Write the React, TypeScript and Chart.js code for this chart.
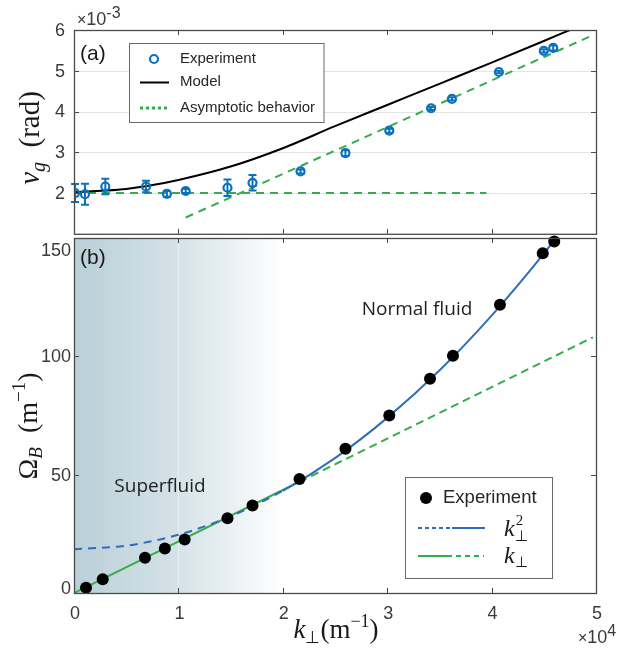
import React, { useEffect, useRef } from 'react';
import { Chart, registerables } from 'chart.js';
Chart.register(...registerables);

// ---------- Panel (a): group velocity (k in 1e4 m^-1, v_g in 1e-3 rad) ----------
const kA = [0.01, 0.105, 0.30, 0.69, 0.89, 1.07, 1.47, 1.71, 2.17, 2.60, 3.02, 3.42, 3.62, 4.07, 4.50, 4.59];
const vgExp = [2.00, 1.97, 2.16, 2.16, 1.98, 2.05, 2.13, 2.25, 2.53, 2.98, 3.53, 4.08, 4.31, 4.97, 5.49, 5.56];
const vgErr = [0.22, 0.26, 0.19, 0.14, 0.07, 0.05, 0.20, 0.19, 0.05, 0.07, 0.05, 0.04, 0.04, 0.03, 0.04, 0.06];
const modelK = [0, 0.3, 0.5, 0.7, 1.0, 1.5, 2.0, 2.5, 3.0, 3.5, 4.0, 4.5, 4.75];
const modelV = [2.02, 2.06, 2.10, 2.17, 2.32, 2.65, 3.10, 3.64, 4.16, 4.68, 5.20, 5.73, 6.0];
const asymFlatK = [0, 3.95];
const asymFlatV = [2.0, 2.0];
const asymSlopeK = [1.07, 4.94];
const asymSlopeV = [1.40, 5.84];

// ---------- Panel (b): Omega_B (m^-1) ----------
const kB = [0.115, 0.275, 0.68, 0.87, 1.06, 1.47, 1.71, 2.16, 2.60, 3.02, 3.41, 3.63, 4.08, 4.49, 4.60];
const omegaExp = [2.2, 5.8, 14.9, 18.8, 22.6, 31.6, 37.0, 48.2, 61.0, 75.0, 90.5, 100.2, 121.8, 143.6, 148.5];
const k2K = [0, 0.5, 1.0, 1.5, 2.0, 2.5, 3.0, 3.5, 4.0, 4.5, 4.65];
const k2Omega = [18.5, 20.0, 24.6, 32.4, 43.2, 57.0, 74.0, 94.0, 117.2, 143.4, 152.0];
const k1K = [0, 2.16, 4.97];
const k1Omega = [0, 47.0, 108.0];
const superfluidEnd = 2.0;
const k2SolidFrom = 2.0;
const k1DashedFrom = 2.16;

// ---------- Ticks ----------
const xTicks = [0, 1, 2, 3, 4, 5];
const yATicks = [2, 3, 4, 5, 6];
const yBTicks = [0, 50, 100, 150];

const SANS = '"Liberation Sans", Arial, Helvetica, sans-serif';
const SERIF = '"Liberation Serif", "Times New Roman", serif';
const NOTE = '"Open Sans", sans-serif';
const TXT = '#3a3a3a';
const AXIS = '#4a4a4a';
const BLUE = '#0a72bd';
const CURVE_BLUE = '#2f6dbb';
const GREEN = '#35ad4a';

type Part = { t: string; font: string; dy?: number };

function drawRich(ctx: CanvasRenderingContext2D, parts: Part[], x: number, y: number, center: boolean, rotate: boolean) {
  ctx.save();
  ctx.translate(x, y);
  if (rotate) ctx.rotate(-Math.PI / 2);
  ctx.textAlign = 'left';
  ctx.textBaseline = 'alphabetic';
  let w = 0;
  for (const p of parts) { ctx.font = p.font; w += ctx.measureText(p.t).width; }
  let cx = center ? -w / 2 : 0;
  for (const p of parts) {
    ctx.font = p.font;
    ctx.fillText(p.t, cx, p.dy || 0);
    cx += ctx.measureText(p.t).width;
  }
  ctx.restore();
}

function drawFrame(chart: any, xt: number[], yt: number[], len: number) {
  const { ctx, chartArea: a, scales } = chart;
  const x = scales.x, y = scales.y;
  ctx.save();
  ctx.strokeStyle = AXIS;
  ctx.lineWidth = 1;
  ctx.beginPath();
  for (const t of xt) {
    const px = Math.round(x.getPixelForValue(t)) + 0.5;
    if (px <= a.left + 2 || px >= a.right - 2) continue;
    ctx.moveTo(px, a.top); ctx.lineTo(px, a.top + len);
    ctx.moveTo(px, a.bottom); ctx.lineTo(px, a.bottom - len);
  }
  for (const t of yt) {
    const py = Math.round(y.getPixelForValue(t)) + 0.5;
    if (py <= a.top + 2 || py >= a.bottom - 2) continue;
    ctx.moveTo(a.left, py); ctx.lineTo(a.left + len, py);
    ctx.moveTo(a.right, py); ctx.lineTo(a.right - len, py);
  }
  ctx.stroke();
  ctx.lineWidth = 1.3;
  ctx.strokeRect(a.left + 0.5, a.top + 0.5, a.right - a.left, a.bottom - a.top);
  ctx.restore();
}

const pts = (xs: number[], ys: number[]) => xs.map((v, i) => ({ x: v, y: ys[i] }));

const baseOptions = (padding: any, yMin: number, yMax: number): any => ({
  responsive: false,
  animation: false,
  devicePixelRatio: 1,
  events: [],
  layout: { padding },
  scales: {
    x: { type: 'linear', display: false, min: 0, max: 5 },
    y: { type: 'linear', display: false, min: yMin, max: yMax },
  },
  plugins: { legend: { display: false }, tooltip: { enabled: false } },
});

const panelAPlugin = {
  id: 'panelA',
  beforeDatasetsDraw(chart: any) {
    const { ctx, chartArea: a, scales } = chart;
    ctx.save();
    ctx.strokeStyle = '#e4e4e4';
    ctx.lineWidth = 1;
    ctx.beginPath();
    for (const t of yATicks) {
      const py = Math.round(scales.y.getPixelForValue(t)) + 0.5;
      if (py <= a.top + 2) continue;
      ctx.moveTo(a.left, py); ctx.lineTo(a.right, py);
    }
    ctx.stroke();
    ctx.restore();
  },
  beforeDatasetDraw(chart: any, args: any) {
    if (args.index !== 0) return;
    const { ctx, scales } = chart;
    ctx.save();
    ctx.strokeStyle = BLUE;
    ctx.lineWidth = 2;
    ctx.beginPath();
    kA.forEach((k, i) => {
      const px = scales.x.getPixelForValue(k);
      const y1 = scales.y.getPixelForValue(vgExp[i] - vgErr[i]);
      const y2 = scales.y.getPixelForValue(vgExp[i] + vgErr[i]);
      ctx.moveTo(px, y1); ctx.lineTo(px, y2);
      ctx.moveTo(px - 4, y1); ctx.lineTo(px + 4, y1);
      ctx.moveTo(px - 4, y2); ctx.lineTo(px + 4, y2);
    });
    ctx.stroke();
    ctx.restore();
  },
  afterDraw(chart: any) {
    const { ctx, scales } = chart;
    drawFrame(chart, xTicks, yATicks, 5);
    ctx.save();
    ctx.fillStyle = TXT;
    ctx.font = `18px ${SANS}`;
    ctx.textAlign = 'right';
    ctx.textBaseline = 'middle';
    for (const t of yATicks) ctx.fillText(String(t), 65, scales.y.getPixelForValue(t) + 1);
    // exponent
    drawRich(ctx, [
      { t: '×', font: `16px ${SANS}` },
      { t: '10', font: `18px ${SANS}` },
      { t: '-3', font: `16px ${SANS}`, dy: -7 },
    ], 77, 25, false, false);
    // panel label
    ctx.fillStyle = '#1a1a1a';
    ctx.font = `21px ${SANS}`;
    ctx.textAlign = 'left';
    ctx.textBaseline = 'middle';
    ctx.fillText('(a)', 80, 54);
    // y title
    ctx.fillStyle = '#1a1a1a';
    drawRich(ctx, [
      { t: 'v', font: `italic 29px ${SERIF}` },
      { t: 'g', font: `italic 20px ${SERIF}`, dy: 6 },
      { t: '  (rad)', font: `29px ${SERIF}` },
    ], 39, 138, true, true);
    // legend
    ctx.fillStyle = '#fff';
    ctx.fillRect(129.5, 43.5, 194.5, 79);
    ctx.strokeStyle = '#6a6a6a';
    ctx.lineWidth = 1;
    ctx.strokeRect(129.5, 43.5, 194.5, 79);
    ctx.strokeStyle = BLUE;
    ctx.lineWidth = 2.2;
    ctx.beginPath(); ctx.arc(154, 59, 4, 0, Math.PI * 2); ctx.stroke();
    ctx.lineWidth = 2;
    ctx.strokeStyle = '#000';
    ctx.beginPath(); ctx.moveTo(140, 82.5); ctx.lineTo(169, 82.5); ctx.stroke();
    ctx.strokeStyle = GREEN;
    ctx.lineWidth = 3;
    ctx.setLineDash([3, 3]);
    ctx.beginPath(); ctx.moveTo(140, 108); ctx.lineTo(170, 108); ctx.stroke();
    ctx.setLineDash([]);
    ctx.fillStyle = '#262626';
    ctx.font = `15px ${SANS}`;
    ctx.textAlign = 'left';
    ctx.textBaseline = 'middle';
    ctx.fillText('Experiment', 180, 59);
    ctx.fillText('Model', 180, 82);
    ctx.fillText('Asymptotic behavior', 180, 108);
    ctx.restore();
  },
};

const panelBPlugin = {
  id: 'panelB',
  beforeDatasetsDraw(chart: any) {
    const { ctx, chartArea: a, scales } = chart;
    const x0 = a.left;
    const x1 = scales.x.getPixelForValue(superfluidEnd);
    ctx.save();
    const g = ctx.createLinearGradient(x0, 0, x1, 0);
    g.addColorStop(0, 'rgb(186,207,216)');
    g.addColorStop(0.45, 'rgb(210,224,230)');
    g.addColorStop(0.8, 'rgb(238,243,245)');
    g.addColorStop(1, 'rgb(255,255,255)');
    ctx.fillStyle = g;
    ctx.fillRect(x0, a.top, x1 - x0, a.bottom - a.top);
    ctx.strokeStyle = 'rgba(255,255,255,0.45)';
    ctx.lineWidth = 1;
    ctx.beginPath();
    for (const t of xTicks) {
      const px = Math.round(scales.x.getPixelForValue(t)) + 0.5;
      if (px <= a.left + 2 || px >= a.right - 2) continue;
      ctx.moveTo(px, a.top); ctx.lineTo(px, a.bottom);
    }
    ctx.stroke();
    ctx.restore();
  },
  afterDraw(chart: any) {
    const { ctx, scales } = chart;
    drawFrame(chart, xTicks, yBTicks, 5);
    ctx.save();
    ctx.fillStyle = TXT;
    ctx.font = `18px ${SANS}`;
    ctx.textAlign = 'right';
    ctx.textBaseline = 'middle';
    for (const t of yBTicks) {
      const shift = t === 0 ? -4 : t === 150 ? 13 : 1;
      ctx.fillText(String(t), 71, scales.y.getPixelForValue(t) + shift);
    }
    ctx.textAlign = 'center';
    for (const t of xTicks) ctx.fillText(String(t), scales.x.getPixelForValue(t) + 1, 382);
    drawRich(ctx, [
      { t: '×', font: `16px ${SANS}` },
      { t: '10', font: `18px ${SANS}` },
      { t: '4', font: `16px ${SANS}`, dy: -7 },
    ], 578, 411, false, false);
    ctx.fillStyle = '#1a1a1a';
    ctx.font = `21px ${SANS}`;
    ctx.textAlign = 'left';
    ctx.textBaseline = 'middle';
    ctx.fillText('(b)', 80, 26);
    // annotations
    ctx.fillStyle = '#1e1e1e';
    ctx.font = `19px ${NOTE}`;
    ctx.textAlign = 'center';
    ctx.fillText('Normal fluid', 417, 78);
    ctx.fillText('Superfluid', 160, 255);
    // axis titles
    ctx.fillStyle = '#1a1a1a';
    drawRich(ctx, [
      { t: 'k', font: `italic 27px ${SERIF}` },
      { t: '⊥', font: `17px ${SERIF}`, dy: 5 },
      { t: '(m', font: `27px ${SERIF}` },
      { t: '−1', font: `18px ${SERIF}`, dy: -11 },
      { t: ')', font: `27px ${SERIF}` },
    ], 336, 406, true, false);
    drawRich(ctx, [
      { t: 'Ω', font: `28px ${SERIF}` },
      { t: 'B', font: `italic 19px ${SERIF}`, dy: 5 },
      { t: '  (m', font: `28px ${SERIF}` },
      { t: '−1', font: `19px ${SERIF}`, dy: -12 },
      { t: ')', font: `28px ${SERIF}` },
    ], 37, 194, true, true);
    // legend
    ctx.fillStyle = '#fff';
    ctx.fillRect(405.5, 245.5, 147, 101);
    ctx.strokeStyle = '#6a6a6a';
    ctx.lineWidth = 1;
    ctx.strokeRect(405.5, 245.5, 147, 101);
    ctx.fillStyle = '#000';
    ctx.beginPath(); ctx.arc(426, 266, 6, 0, Math.PI * 2); ctx.fill();
    ctx.fillStyle = '#262626';
    ctx.font = `18.5px ${SANS}`;
    ctx.textAlign = 'left';
    ctx.textBaseline = 'middle';
    ctx.fillText('Experiment', 443, 266);
    ctx.lineWidth = 2;
    ctx.strokeStyle = CURVE_BLUE;
    ctx.setLineDash([4, 3]);
    ctx.beginPath(); ctx.moveTo(418, 296); ctx.lineTo(452, 296); ctx.stroke();
    ctx.setLineDash([]);
    ctx.beginPath(); ctx.moveTo(452, 296); ctx.lineTo(485, 296); ctx.stroke();
    ctx.strokeStyle = GREEN;
    ctx.beginPath(); ctx.moveTo(418, 324); ctx.lineTo(452, 324); ctx.stroke();
    ctx.setLineDash([5, 4]);
    ctx.beginPath(); ctx.moveTo(456, 324); ctx.lineTo(484, 324); ctx.stroke();
    ctx.setLineDash([]);
    ctx.fillStyle = '#1a1a1a';
    ctx.textBaseline = 'alphabetic';
    ctx.font = `italic 24px ${SERIF}`;
    ctx.fillText('k', 504, 304);
    const kw = ctx.measureText('k').width;
    ctx.font = `15px ${SERIF}`;
    ctx.fillText('⊥', 504 + kw, 309);
    ctx.fillText('2', 504 + kw + 1, 293);
    ctx.font = `italic 24px ${SERIF}`;
    ctx.fillText('k', 504, 331);
    ctx.font = `15px ${SERIF}`;
    ctx.fillText('⊥', 504 + kw, 335);
    ctx.restore();
  },
};

export default function App() {
  const refA = useRef<HTMLCanvasElement>(null);
  const refB = useRef<HTMLCanvasElement>(null);
  useEffect(() => {
    const chartA = new Chart(refA.current as HTMLCanvasElement, {
      type: 'scatter',
      data: {
        datasets: [
          {
            label: 'Experiment',
            data: pts(kA, vgExp),
            showLine: false,
            pointRadius: 4,
            pointBorderWidth: 2.2,
            pointBorderColor: BLUE,
            pointBackgroundColor: 'rgba(0,0,0,0)',
            borderColor: BLUE,
          },
          {
            label: 'Model',
            data: pts(modelK, modelV),
            showLine: true,
            pointRadius: 0,
            borderColor: '#000',
            borderWidth: 2,
            cubicInterpolationMode: 'monotone',
          },
          {
            label: 'Asymptotic behavior',
            data: pts(asymFlatK, asymFlatV),
            showLine: true,
            pointRadius: 0,
            borderColor: GREEN,
            borderWidth: 2,
            borderDash: [8, 6],
          },
          {
            label: 'Asymptotic behavior (linear)',
            data: pts(asymSlopeK, asymSlopeV),
            showLine: true,
            pointRadius: 0,
            borderColor: GREEN,
            borderWidth: 2,
            borderDash: [8, 6],
          },
        ],
      } as any,
      options: baseOptions({ left: 74, right: 23, top: 30, bottom: 3 }, 1, 6),
      plugins: [panelAPlugin as any],
    });
    const chartB = new Chart(refB.current as HTMLCanvasElement, {
      type: 'scatter',
      data: {
        datasets: [
          {
            label: 'Experiment',
            data: pts(kB, omegaExp),
            showLine: false,
            pointRadius: 6,
            pointBorderWidth: 0,
            pointBackgroundColor: '#000',
            borderColor: '#000',
            clip: false,
          },
          {
            label: 'k⊥²',
            data: pts(k2K, k2Omega),
            showLine: true,
            pointRadius: 0,
            borderColor: CURVE_BLUE,
            borderWidth: 2,
            cubicInterpolationMode: 'monotone',
            segment: { borderDash: (c: any) => (c.p0.parsed.x < k2SolidFrom ? [8, 6] : []) },
          },
          {
            label: 'k⊥',
            data: pts(k1K, k1Omega),
            showLine: true,
            pointRadius: 0,
            borderColor: GREEN,
            borderWidth: 2,
            segment: { borderDash: (c: any) => (c.p0.parsed.x >= k1DashedFrom ? [8, 5] : []) },
          },
        ],
      } as any,
      options: baseOptions({ left: 74, right: 23, top: 5, bottom: 59 }, 0, 150),
      plugins: [panelBPlugin as any],
    });
    return () => {
      chartA.destroy();
      chartB.destroy();
    };
  }, []);
  return (
    <div style={{ position: 'fixed', left: 0, top: 0, width: 619, height: 652, background: '#fff' }}>
      <canvas ref={refA} width={619} height={240} style={{ position: 'absolute', left: 0, top: 0, width: 619, height: 240 }} />
      <canvas ref={refB} width={619} height={420} style={{ position: 'absolute', left: 0, top: 232, width: 619, height: 420 }} />
    </div>
  );
}
